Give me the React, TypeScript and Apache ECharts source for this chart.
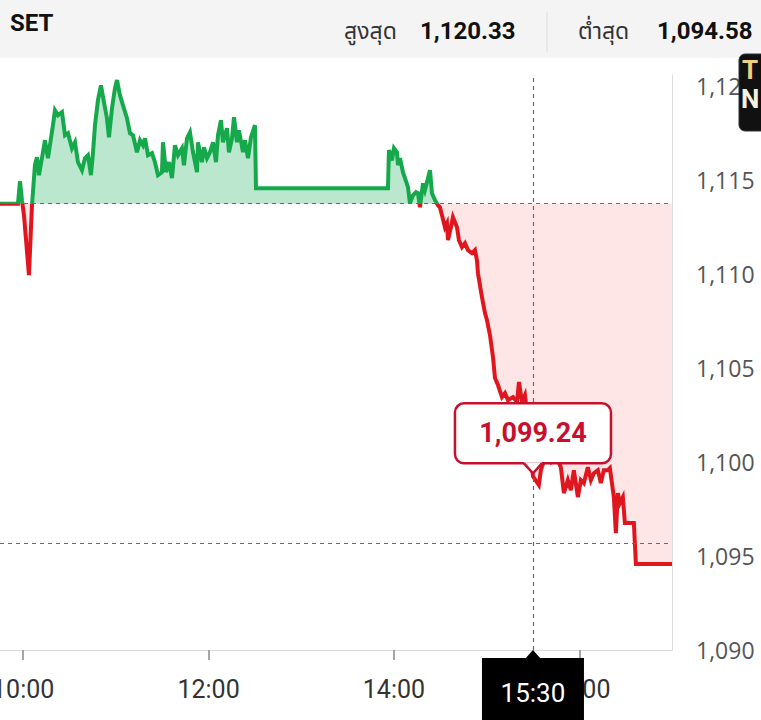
import React, { useEffect, useRef } from "react";
import * as echarts from "echarts";

const indexName = "SET";
const highLabel = "สูงสุด";
const highValue = "1,120.33";
const lowLabel = "ต่ำสุด";
const lowValue = "1,094.58";
const prevClose = 1113.75;
const crossTime = "15:30";
const crossValue = 1099.24;
const crossLevel = 1095.7;
const xTickTimes = ["10:00", "12:00", "14:00", "16:00"];
const xRange = ["09:45", "17:00"];
const yRange = [1090, 1120.6];
const yStep = 5;

const times = [
  "09:45:00","09:56:38","09:57:56","09:59:13","10:00:31","10:03:45","10:05:42","10:07:38","10:08:56","10:10:14",
  "10:12:49","10:14:07","10:16:03","10:19:17","10:20:35","10:22:32","10:25:07","10:27:04","10:29:00","10:31:35",
  "10:33:32","10:35:28","10:38:04","10:40:00","10:41:57","10:43:53","10:45:11","10:46:29","10:48:25","10:50:22",
  "10:52:18","10:54:14","10:55:32","10:57:29","10:59:25","11:00:43","11:02:40","11:04:36","11:07:11","11:09:08",
  "11:11:05","11:13:40","11:15:37","11:17:33","11:18:51","11:20:47","11:23:23","11:25:19","11:27:16","11:29:51",
  "11:30:30","11:32:26","11:34:23","11:36:19","11:38:16","11:40:13","11:42:48","11:44:05","11:46:02","11:47:58",
  "11:49:55","11:52:31","11:53:09","11:55:44","11:57:02","11:58:59","12:00:55","12:02:52","12:04:49","12:06:06",
  "12:08:02","12:09:20","12:11:56","12:13:13","12:15:10","12:16:28","12:18:24","12:19:41","12:22:17","12:23:35",
  "12:25:31","12:27:28","12:30:03","12:30:42","13:56:08","13:56:47","13:58:44","14:00:02","14:01:58","14:02:37",
  "14:03:55","14:05:51","14:07:09","14:09:05","14:10:23","14:12:19","14:14:16","14:15:34","14:16:52","14:18:48",
  "14:20:05","14:21:23","14:23:20","14:24:37","14:26:34","14:28:31","14:29:48","14:31:06","14:33:02","14:34:20",
  "14:34:59","14:36:55","14:38:13","14:40:49","14:42:06","14:44:02","14:45:59","14:47:56","14:50:31","14:52:28",
  "14:53:45","14:54:24","14:56:59","14:58:56","15:00:14","15:02:10","15:04:07","15:05:25","15:07:21","15:09:56",
  "15:11:53","15:13:49","15:17:04","15:19:39","15:20:56","15:22:53","15:24:49","15:26:46","15:28:43","15:30:00",
  "15:33:49","15:35:07","15:38:21","15:41:35","15:44:49","15:48:03","15:50:00","15:52:35","15:54:32","15:56:28",
  "15:59:04","16:01:00","16:02:56","16:05:32","16:07:29","16:09:25","16:12:01","16:13:57","16:15:53","16:18:29",
  "16:19:47","16:21:43","16:22:22","16:23:40","16:24:58","16:26:15","16:28:11","16:29:29","16:35:19","16:36:37",
  "17:00:00"
];

const values = [
  1113.75,1113.75,1114.95,1113.94,1113.14,1109.95,1113.67,1115.80,1116.22,1115.27,
  1116.49,1117.13,1116.17,1117.93,1118.72,1118.46,1118.62,1117.39,1117.50,1116.70,
  1117.02,1115.96,1115.53,1116.17,1116.33,1115.27,1116.44,1117.93,1119.26,1120.05,
  1119.15,1118.30,1117.29,1118.83,1119.89,1120.33,1119.52,1118.99,1118.30,1117.50,
  1117.39,1116.49,1117.13,1116.86,1117.23,1116.33,1116.44,1115.96,1115.27,1115.43,
  1117.02,1115.43,1115.96,1115.11,1116.86,1116.33,1116.70,1115.80,1117.23,1117.55,
  1116.49,1115.43,1117.02,1115.96,1116.76,1116.17,1116.49,1117.02,1115.96,1117.39,
  1118.19,1117.02,1117.77,1116.49,1117.23,1118.35,1117.02,1117.66,1116.49,1117.13,
  1116.17,1117.29,1117.93,1114.57,1114.57,1116.60,1116.06,1116.70,1116.49,1115.80,
  1116.17,1115.43,1115.11,1114.63,1113.78,1114.20,1114.36,1114.31,1113.56,1114.84,
  1114.47,1114.89,1115.53,1114.31,1113.94,1113.67,1113.56,1113.14,1112.50,1112.71,
  1111.81,1112.50,1113.03,1112.50,1111.81,1111.44,1111.65,1111.28,1111.12,1111.28,
  1110.74,1110.05,1108.78,1107.93,1107.55,1106.76,1105.59,1104.47,1104.10,1103.46,
  1103.67,1103.30,1103.46,1103.19,1104.26,1103.19,1103.56,1102.23,1100.37,1099.24,
  1098.78,1099.57,1100.37,1100.00,1100.37,1099.73,1098.35,1099.04,1098.51,1099.57,
  1098.14,1099.04,1098.88,1099.73,1099.04,1099.41,1099.57,1098.88,1099.57,1099.57,
  1099.68,1098.51,1098.14,1096.22,1098.35,1097.82,1098.14,1096.76,1096.76,1094.58,
  1094.58
];

const GREEN = "#15a94b";
const RED = "#e0161e";
const TOOLTIP_RED = "#c8102e";

function toMin(s: string): number {
  const p = s.split(":").map(Number);
  return p[0] * 60 + p[1] + (p[2] || 0) / 60;
}
function fmtTime(v: number): string {
  const h = Math.floor(v / 60);
  const m = Math.round(v - h * 60);
  return `${h}:${String(m).padStart(2, "0")}`;
}
function fmtNum(v: number): string {
  return v.toLocaleString("en-US", { maximumFractionDigits: 2 });
}

export default function App() {
  const ref = useRef<HTMLDivElement>(null);

  useEffect(() => {
    if (!ref.current) return;
    const chart = echarts.init(ref.current, null, { renderer: "svg" });
    const data = times.map((t, i) => [toMin(t), values[i]]);
    const font = "Roboto, 'Noto Sans Thai', 'Noto Sans', sans-serif";
    const lowBound = yRange[0] - 100;
    const highBound = yRange[1] + 100;

    chart.setOption({
      animation: false,
      backgroundColor: "#ffffff",
      grid: { left: 0, right: 89, top: 75, bottom: 70, containLabel: false, outerBoundsMode: "none" },
      xAxis: {
        type: "value",
        min: toMin(xRange[0]),
        max: toMin(xRange[1]),
        splitLine: { show: false },
        axisLine: { show: true, onZero: false, lineStyle: { color: "#dcdcdc", width: 1 } },
        axisTick: {
          show: true,
          customValues: xTickTimes.map(toMin),
          length: 10,
          lineStyle: { color: "#888", width: 1.5 },
        },
        axisLabel: {
          customValues: xTickTimes.map(toMin),
          formatter: (v: number) => fmtTime(v),
          fontSize: 25,
          fontFamily: font,
          color: "#333",
          margin: 27,
        },
      },
      yAxis: {
        type: "value",
        position: "right",
        min: yRange[0],
        max: yRange[1],
        interval: yStep,
        splitLine: { show: false },
        axisLine: { show: true, lineStyle: { color: "#dcdcdc", width: 1 } },
        axisTick: { show: false },
        axisLabel: {
          formatter: (v: number) => fmtNum(v),
          fontSize: 23,
          fontFamily: "'Open Sans', 'Noto Sans', sans-serif",
          color: "#555",
          margin: 24,
        },
      },
      visualMap: [
        {
          type: "piecewise",
          show: false,
          seriesIndex: 0,
          dimension: 1,
          pieces: [
            { gte: prevClose, lte: highBound, color: "rgba(30,175,95,0.30)" },
            { gte: lowBound, lt: prevClose, color: "rgba(240,60,60,0.13)" },
          ],
        },
        {
          type: "piecewise",
          show: false,
          seriesIndex: 1,
          dimension: 1,
          pieces: [
            { gte: prevClose, lte: highBound, color: GREEN },
            { gte: lowBound, lt: prevClose, color: RED },
          ],
        },
      ],
      series: [
        {
          type: "line",
          data,
          showSymbol: false,
          silent: true,
          z: 1,
          lineStyle: { width: 0, opacity: 0 },
          areaStyle: { origin: prevClose, opacity: 1 },
        },
        {
          type: "line",
          data,
          showSymbol: false,
          silent: true,
          z: 3,
          lineStyle: { width: 4, join: "miter" },
          markLine: {
            silent: true,
            symbol: "none",
            label: { show: false },
            lineStyle: { type: [4, 4], color: "#6a6a6a", width: 1.2 },
            data: [
              { yAxis: prevClose },
              { yAxis: crossLevel },
              { xAxis: toMin(crossTime) },
            ],
          },
        },
      ],
    });

    const [cx, cy] = chart.convertToPixel({ gridIndex: 0 }, [toMin(crossTime), crossValue]) as number[];
    const axisY = (chart.convertToPixel({ gridIndex: 0 }, [toMin(xRange[0]), yRange[0]]) as number[])[1];

    chart.setOption({
      graphic: [
        { type: "rect", z: 50, shape: { x: 0, y: 0, width: 761, height: 58 }, style: { fill: "#f4f4f4" } },
        { type: "text", z: 51, x: 10, y: 23, style: { text: indexName, font: `bold 24px ${font}`, fill: "#111", verticalAlign: "middle" } },
        { type: "text", z: 51, x: 344, y: 31, style: { text: highLabel, font: `23px ${font}`, fill: "#333", verticalAlign: "middle" } },
        { type: "text", z: 51, x: 420, y: 31, style: { text: highValue, font: `bold 24px ${font}`, fill: "#111", verticalAlign: "middle" } },
        { type: "line", z: 51, shape: { x1: 547, y1: 12, x2: 547, y2: 52 }, style: { stroke: "#dddddd", lineWidth: 1 } },
        { type: "text", z: 51, x: 578, y: 31, style: { text: lowLabel, font: `23px ${font}`, fill: "#333", verticalAlign: "middle" } },
        { type: "text", z: 51, x: 657, y: 31, style: { text: lowValue, font: `bold 24px ${font}`, fill: "#111", verticalAlign: "middle" } },
        { type: "rect", z: 60, shape: { x: 739, y: 54, width: 40, height: 77, r: 6 }, style: { fill: "#111", stroke: "#333", lineWidth: 1 } },
        { type: "text", z: 61, x: 742, y: 57, style: { text: "T", font: `bold 26px ${font}`, fill: "#f1d27a" } },
        { type: "text", z: 61, x: 741, y: 86, style: { text: "N", font: `bold 26px ${font}`, fill: "#f5f0e0" } },
        { type: "rect", z: 70, shape: { x: cx - 78, y: cy - 73, width: 156, height: 60, r: 9 }, style: { fill: "#ffffff", stroke: TOOLTIP_RED, lineWidth: 2.5 } },
        { type: "polygon", z: 71, shape: { points: [[cx - 9, cy - 14], [cx + 9, cy - 14], [cx, cy - 3]] }, style: { fill: "#ffffff" } },
        { type: "polyline", z: 72, shape: { points: [[cx - 9, cy - 13], [cx, cy - 3], [cx + 9, cy - 13]] }, style: { stroke: TOOLTIP_RED, lineWidth: 2.5, fill: "none" } },
        { type: "text", z: 73, x: cx, y: cy - 43, style: { text: fmtNum(crossValue), font: `bold 27px ${font}`, fill: TOOLTIP_RED, align: "center", verticalAlign: "middle" } },
        { type: "rect", z: 70, shape: { x: cx - 51, y: axisY + 8, width: 102, height: 70 }, style: { fill: "#000000" } },
        { type: "polygon", z: 70, shape: { points: [[cx - 8, axisY + 9], [cx + 8, axisY + 9], [cx, axisY]] }, style: { fill: "#000000" } },
        { type: "text", z: 71, x: cx, y: axisY + 43, style: { text: crossTime, font: `26px ${font}`, fill: "#ffffff", align: "center", verticalAlign: "middle" } },
      ],
    });

    return () => chart.dispose();
  }, []);

  return (
    <div
      ref={ref}
      style={{ position: "fixed", left: 0, top: 0, width: 761, height: 720, background: "#fff" }}
    />
  );
}
